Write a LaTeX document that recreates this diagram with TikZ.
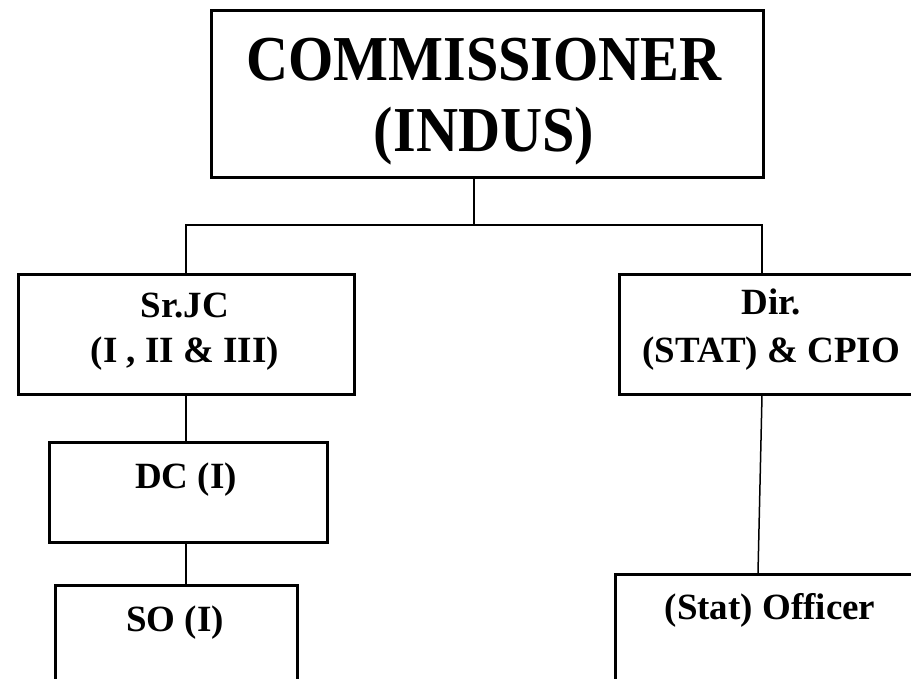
\documentclass[tikz,border=0pt]{standalone}
\usepackage{fontspec}
\setmainfont{Liberation Serif}
\newcommand{\wideshrink}[1]{\scalebox{0.91}[1]{#1}}
\begin{document}
\begin{tikzpicture}[x=1pt,y=-1pt,
  box/.style={draw=black,line width=2.6pt,rectangle,inner sep=0pt,anchor=north west},
  conn/.style={draw=black,line width=2.6pt},
  thinconn/.style={draw=black,line width=1.5pt},
  bigtxt/.style={font=\fontsize{64}{71}\selectfont\bfseries,anchor=base,inner sep=0pt},
  midtxt/.style={font=\fontsize{37}{44}\selectfont\bfseries,anchor=base,inner sep=0pt}]
\useasboundingbox (0,0) rectangle (911,679);
\clip (0,0) rectangle (911,679);
% boxes
\node[box,minimum width=552pt,minimum height=167pt] (top) at (210,9) {};
\node[box,minimum width=336pt,minimum height=120pt] (srjc) at (17,273) {};
\node[box,minimum width=278pt,minimum height=100pt] (dc) at (48,441) {};
\node[box,minimum width=242pt,minimum height=130pt] (so) at (54,584) {};
\node[box,minimum width=306pt,minimum height=120pt] (dir) at (618,273) {};
\node[box,minimum width=312pt,minimum height=130pt] (stat) at (614,573) {};
% texts
\node[bigtxt] (t1) at (484,81) {\wideshrink{COMMISSIONER}};
\node[bigtxt] (t2) at (484,152) {\wideshrink{(INDUS)}};
\node[midtxt] (s1) at (185,317) {Sr.JC};
\node[midtxt] (s2) at (185,362) {(I , II \& III)};
\node[midtxt] (d1) at (186,488) {DC (I)};
\node[midtxt] (o1) at (175,631) {SO (I)};
\node[midtxt] (r1) at (771,315) {Dir.};
\node[midtxt] (r2) at (771,362) {(STAT) \& CPIO};
\node[midtxt] (st) at (770,619) {(Stat) Officer};
% connectors
\coordinate (jt) at (474,225);
\coordinate (jl) at (186,225);
\coordinate (jr) at (762,225);
\coordinate (dl) at (186,273);
\coordinate (dr) at (762,273);
\draw[conn] (jt |- top.south) -- (jt);
\draw[conn] (dl) -- (jl) -- (jr) -- (dr);
\draw[conn] (dl |- srjc.south) -- (dl |- dc.north);
\draw[conn] (dl |- dc.south) -- (dl |- so.north);
\coordinate (sb) at (758,573);
\draw[thinconn] (dr |- dir.south) -- (sb);
\end{tikzpicture}
\end{document}
